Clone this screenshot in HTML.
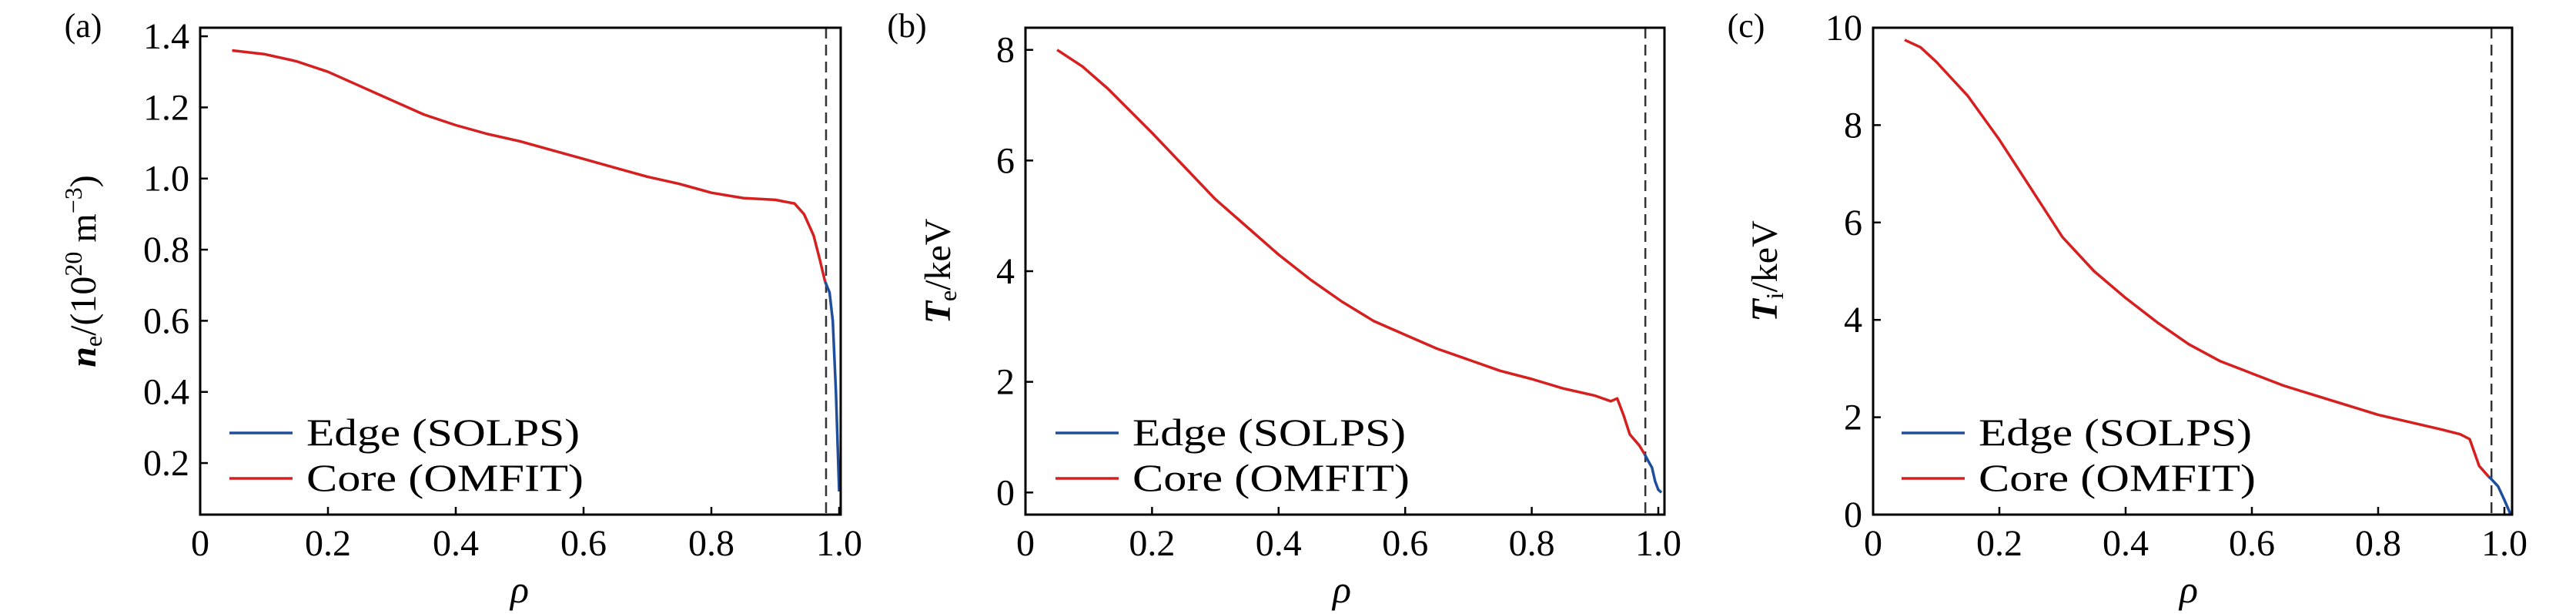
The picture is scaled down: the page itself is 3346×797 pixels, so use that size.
<!DOCTYPE html>
<html><head><meta charset="utf-8"><style>
html,body{margin:0;padding:0;background:#fff;}
svg{display:block;}
text{font-family:"Liberation Serif","DejaVu Serif",serif;}
</style></head><body>
<svg id="s" width="3346" height="797" viewBox="0 0 3346 797" xmlns="http://www.w3.org/2000/svg"></svg>
<script>
const S=document.getElementById('s');let h='';
const F='font-family="Liberation Serif, DejaVu Serif, serif"';
const panels=[
 {L:260,R:1092,x1:1090,lab:'(a)',labx:108,ymin:0.055,ymax:1.424,yt:[0.2,0.4,0.6,0.8,1.0,1.2,1.4],fmt:v=>v.toFixed(1),
  yl:'<tspan font-style="italic" font-weight="bold">n</tspan><tspan font-size="32" dy="8">e</tspan><tspan dy="-8">/(10</tspan><tspan font-size="32" dy="-18">20</tspan><tspan dy="18"> m</tspan><tspan font-size="32" dy="-18">−3</tspan><tspan dy="18">)</tspan>',ylx:108,ylen:560,
  core:[[0.05,1.36],[0.1,1.35],[0.15,1.33],[0.2,1.30],[0.25,1.26],[0.3,1.22],[0.35,1.18],[0.4,1.15],[0.45,1.125],[0.5,1.105],[0.55,1.08],[0.6,1.055],[0.65,1.03],[0.7,1.005],[0.75,0.985],[0.8,0.96],[0.85,0.945],[0.9,0.94],[0.93,0.93],[0.945,0.90],[0.96,0.84],[0.97,0.77],[0.978,0.71]],
  edge:[[0.978,0.71],[0.985,0.68],[0.99,0.6],[0.995,0.4],[1.0,0.12]],legx:298},
 {L:1332,R:2162,x1:2154,lab:'(b)',labx:1178,ymin:-0.4,ymax:8.4,yt:[0,2,4,6,8],fmt:v=>v,
  yl:'<tspan font-style="italic" font-weight="bold">T</tspan><tspan font-size="32" dy="8">e</tspan><tspan dy="-8">/keV</tspan>',ylx:1218,ylen:300,
  core:[[0.05,8.0],[0.09,7.7],[0.13,7.3],[0.2,6.5],[0.25,5.9],[0.3,5.3],[0.35,4.8],[0.4,4.3],[0.45,3.85],[0.5,3.45],[0.55,3.1],[0.6,2.85],[0.65,2.6],[0.7,2.4],[0.75,2.2],[0.8,2.05],[0.85,1.88],[0.9,1.75],[0.925,1.65],[0.935,1.7],[0.945,1.4],[0.955,1.05],[0.97,0.85],[0.978,0.7]],
  edge:[[0.978,0.7],[0.985,0.55],[0.99,0.45],[0.995,0.2],[1.0,0.05],[1.005,0.0]],legx:1371},
 {L:2433,R:3263,x1:3253,lab:'(c)',labx:2268,ymin:0,ymax:10,yt:[0,2,4,6,8,10],fmt:v=>v,
  yl:'<tspan font-style="italic" font-weight="bold">T</tspan><tspan font-size="32" dy="8">i</tspan><tspan dy="-8">/keV</tspan>',ylx:2292,ylen:290,
  core:[[0.05,9.75],[0.075,9.6],[0.1,9.3],[0.15,8.6],[0.2,7.7],[0.25,6.7],[0.3,5.7],[0.35,5.0],[0.4,4.45],[0.45,3.95],[0.5,3.5],[0.55,3.15],[0.6,2.9],[0.65,2.65],[0.7,2.45],[0.75,2.25],[0.8,2.05],[0.85,1.9],[0.9,1.75],[0.93,1.65],[0.945,1.55],[0.96,1.0],[0.975,0.78]],
  edge:[[0.975,0.78],[0.98,0.72],[0.99,0.58],[1.0,0.3],[1.01,0.0]],legx:2470}
];
const T=36,B=668;
for(const p of panels){
 const X=r=>p.L+(p.x1-p.L)*r, Y=v=>B-(v-p.ymin)/(p.ymax-p.ymin)*(B-T);
 const pts=a=>a.map(q=>X(q[0]).toFixed(1)+','+Y(q[1]).toFixed(1)).join(' ');
 h+=`<line x1="${X(0.9795)}" y1="${T}" x2="${X(0.9795)}" y2="${B}" stroke="#333" stroke-width="2.5" stroke-dasharray="14,8"/>`;
 h+=`<polyline points="${pts(p.core)}" fill="none" stroke="#d62020" stroke-width="3.5" stroke-linejoin="round"/>`;
 h+=`<polyline points="${pts(p.edge)}" fill="none" stroke="#1f4e9c" stroke-width="3.5" stroke-linejoin="round"/>`;
 h+=`<rect x="${p.L}" y="${T}" width="${p.R-p.L}" height="${B-T}" fill="none" stroke="#000" stroke-width="3"/>`;
 for(let i=0;i<=5;i++){const r=i/5,x=X(r);
  h+=`<line x1="${x}" y1="${B}" x2="${x}" y2="${B-10}" stroke="#000" stroke-width="2.5"/>`;
  h+=`<text ${F} x="${x}" y="${B+53}" font-size="48" text-anchor="middle">${i==0?'0':r.toFixed(1)}</text>`;}
 for(const v of p.yt){const y=Y(v);
  h+=`<line x1="${p.L}" y1="${y}" x2="${p.L+10}" y2="${y}" stroke="#000" stroke-width="2.5"/>`;
  h+=`<text ${F} x="${p.L-14}" y="${y+16}" font-size="48" text-anchor="end">${p.fmt(v)}</text>`;}
 h+=`<text ${F} x="${p.labx}" y="48" font-size="44" text-anchor="middle">${p.lab}</text>`;
 h+=`<text ${F} transform="translate(${p.ylx+16},352) rotate(-90)" font-size="48" text-anchor="middle">${p.yl}</text>`;
 h+=`<text ${F} x="${(p.L+p.x1)/2}" y="782" font-size="50" font-style="italic" text-anchor="middle">ρ</text>`;
 h+=`<line x1="${p.legx}" y1="562" x2="${p.legx+82}" y2="562" stroke="#1f4e9c" stroke-width="3.5"/>`;
 h+=`<line x1="${p.legx}" y1="621" x2="${p.legx+82}" y2="621" stroke="#d62020" stroke-width="3.5"/>`;
 h+=`<text ${F} x="${p.legx+100}" y="578" font-size="50" textLength="355" lengthAdjust="spacingAndGlyphs">Edge (SOLPS)</text>`;
 h+=`<text ${F} x="${p.legx+100}" y="637" font-size="50" textLength="360" lengthAdjust="spacingAndGlyphs">Core (OMFIT)</text>`;
}
S.innerHTML=h;
</script>
</body></html>
